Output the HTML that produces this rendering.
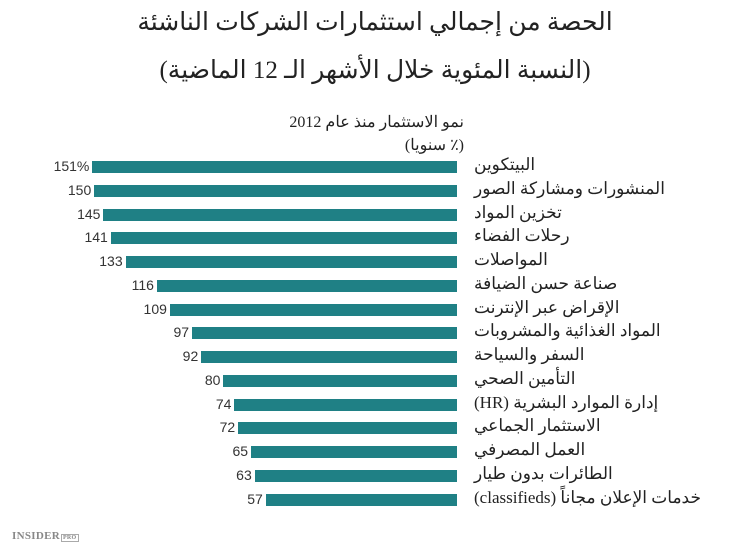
<!DOCTYPE html>
<html><head><meta charset="utf-8"><style>
body{margin:0;background:#fff;}
#c{position:relative;width:750px;height:552px;overflow:hidden;background:#fff;font-family:"Liberation Serif","DejaVu Serif","Noto Sans CJK SC",serif;color:#222;}
.t{position:absolute;left:0;width:750px;text-align:center;font-size:25px;direction:rtl;}
.bar{position:absolute;height:12px;background:#1f8085;}
.v{position:absolute;width:60px;text-align:right;font-family:"Liberation Sans",sans-serif;font-size:14px;color:#333;}
.l{position:absolute;left:474px;font-size:17px;direction:rtl;unicode-bidi:embed;white-space:nowrap;color:#222;}
.s{position:absolute;right:286px;font-size:16px;direction:rtl;white-space:nowrap;color:#222;}
</style></head><body><div id="c">
<div class="t" style="top:7px;">الحصة من إجمالي استثمارات الشركات الناشئة</div>
<div class="t" style="top:55px;">(النسبة المئوية خلال الأشهر الـ 12 الماضية)</div>
<div class="s" style="top:112px;">نمو الاستثمار منذ عام 2012</div>
<div class="s" style="top:135px;">(٪ سنويا)</div>
<div id="rows"></div>
<div style="position:absolute;left:12px;top:530px;font-size:11px;font-weight:bold;color:#888;letter-spacing:0.3px;">INSIDER<span style="font-size:6px;border:1px solid #aaa;padding:0 1px;margin-left:1px;">PRO</span></div>
</div>
<script>
var d=[["البيتكوين",151,"151%"],["المنشورات ومشاركة الصور",150],["تخزين المواد",145],["رحلات الفضاء",141],["المواصلات",133],["صناعة حسن الضيافة",116],["الإقراض عبر الإنترنت",109],["المواد الغذائية والمشروبات",97],["السفر والسياحة",92],["التأمين الصحي",80],["إدارة الموارد البشرية (HR)",74],["الاستثمار الجماعي",72],["العمل المصرفي",65],["الطائرات بدون طيار",63],["خدمات الإعلان مجاناً (classifieds)",57]];
var h="";
d.forEach(function(r,i){
 var top=161+23.75*i, left=371-1.845*r[1];
 h+='<div class="bar" style="top:'+top+'px;left:'+left+'px;width:'+(457-left)+'px"></div>';
 h+='<div class="v" style="top:'+(top-3)+'px;left:'+(left-63)+'px">'+(r[2]||r[1])+'</div>';
 h+='<div class="l" style="top:'+(top-6)+'px">'+r[0]+'</div>';
});
document.getElementById("rows").innerHTML=h;
</script>
</body></html>
